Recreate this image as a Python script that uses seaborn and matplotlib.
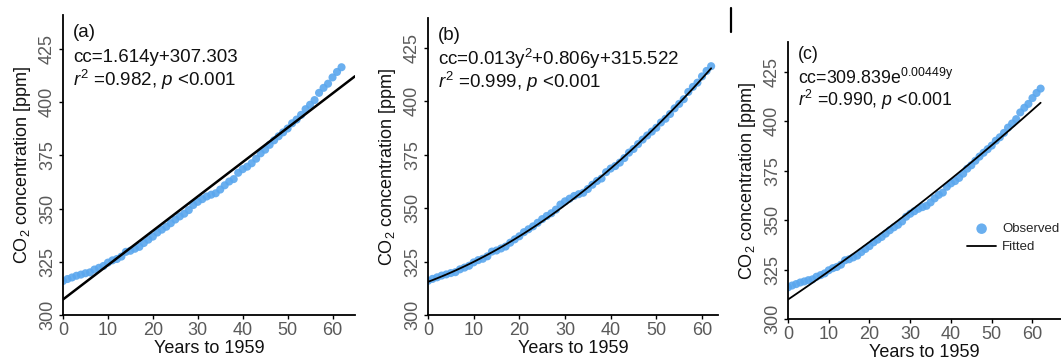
import numpy as np
import pandas as pd
import seaborn as sns
import matplotlib.pyplot as plt

# annual mean CO2 (ppm), years since 1959
years = list(range(0, 63))
co2 = [315.98, 316.91, 317.64, 318.45, 318.99, 319.62, 320.04, 321.37, 322.18, 323.05,
       324.62, 325.68, 326.32, 327.46, 329.68, 330.19, 331.13, 332.03, 333.84, 335.41,
       336.84, 338.76, 340.12, 341.48, 343.15, 344.87, 346.35, 347.61, 349.31, 351.69,
       353.20, 354.45, 355.70, 356.54, 357.21, 358.96, 360.97, 362.74, 363.88, 366.84,
       368.54, 369.71, 371.32, 373.45, 375.98, 377.70, 379.98, 382.09, 384.02, 385.83,
       387.64, 390.10, 391.85, 394.06, 396.74, 398.81, 401.01, 404.41, 406.76, 408.72,
       411.66, 414.24, 416.45]

# fit coefficients as printed on the panels
lin_coef = [1.614, 307.303]
quad_coef = [0.013, 0.806, 315.522]
exp_coef = [309.839, 0.00449]

panel_tags = ["(a)", "(b)", "(c)"]
eq_labels = ["cc=1.614y+307.303",
             "cc=0.013y$^2$+0.806y+315.522",
             r"cc=309.839e$^{\mathrm{0.00449y}}$"]
stat_labels = ["$r^2$ =0.982, $p$ <0.001",
               "$r^2$ =0.999, $p$ <0.001",
               "$r^2$ =0.990, $p$ <0.001"]

sns.set_style("white")
plt.rcParams['font.family'] = ['Liberation Sans', 'DejaVu Sans']
plt.rcParams['mathtext.fontset'] = 'custom'
plt.rcParams['mathtext.rm'] = 'Liberation Sans'
plt.rcParams['mathtext.it'] = 'Liberation Sans:italic'

df = pd.DataFrame({"year": years, "co2": co2})
yr = np.array(years, dtype=float)
yr_a = np.linspace(0, 65, 2)
fits = [
    pd.DataFrame({"year": yr_a, "co2": np.polyval(lin_coef, yr_a)}),
    pd.DataFrame({"year": yr, "co2": np.polyval(quad_coef, yr)}),
    pd.DataFrame({"year": yr, "co2": exp_coef[0] * np.exp(exp_coef[1] * yr)}),
]

W, H = 1061, 364
fig = plt.figure(figsize=(W / 100, H / 100), dpi=100)

# (left, bottom, right, top) in pixels
boxes = [(63, 315, 355, 15), (428, 315, 718, 18), (788, 319, 1061, 42)]
xlims = [65, 63.5, 67]
ylims = [441, 439, 440]
fsz = [13.5, 13.5, 12.8]
text_y = [(0.927, 0.843, 0.763), (0.927, 0.843, 0.763), (0.939, 0.848, 0.769)]
lws = [1.8, 1.3, 1.3]
pt_col = "#5AA7EE"

fig.add_artist(plt.Line2D([731 / W, 731 / W], [1 - 8 / H, 1 - 32 / H],
                          color="black", lw=1.6))

for i, (l, b, r, t) in enumerate(boxes):
    ax = fig.add_axes([l / W, 1 - b / H, (r - l) / W, (b - t) / H])
    sns.scatterplot(data=df, x="year", y="co2", ax=ax, color=pt_col, s=34,
                    edgecolor="none", alpha=0.9, label="Observed", zorder=2)
    sns.lineplot(data=fits[i], x="year", y="co2", ax=ax, color="black",
                 lw=lws[i], label="Fitted", zorder=3)
    ax.set_xlim(0, xlims[i])
    ax.set_ylim(300, ylims[i])
    ax.set_xticks([0, 10, 20, 30, 40, 50, 60])
    ax.set_yticks([300, 325, 350, 375, 400, 425])
    sns.despine(ax=ax)
    for s in ["left", "bottom"]:
        ax.spines[s].set_color("black")
        ax.spines[s].set_linewidth(1.3)
    ax.tick_params(axis="both", which="both", length=3, width=1, color="black",
                   labelsize=13, labelcolor="#5a5a5a", pad=2, direction="out",
                   left=True, bottom=True)
    for lab in ax.get_yticklabels():
        lab.set_rotation(90)
        lab.set_va("center")
    ax.set_xlabel("Years to 1959", fontsize=13, labelpad=1, color="#111111")
    ax.set_ylabel("CO$_2$ concentration [ppm]", fontsize=13, labelpad=4,
                  color="#111111")
    ty = text_y[i]
    ax.text(0.035, ty[0], panel_tags[i], transform=ax.transAxes, fontsize=fsz[i],
            va="baseline", color="#111111")
    ax.text(0.035, ty[1], eq_labels[i], transform=ax.transAxes, fontsize=fsz[i],
            va="baseline", color="#111111")
    ax.text(0.035, ty[2], stat_labels[i], transform=ax.transAxes, fontsize=fsz[i],
            va="baseline", color="#111111")
    if i == 2:
        ax.legend(loc="center left", bbox_to_anchor=(0.656, 0.292), frameon=False,
                  fontsize=9.5, handlelength=2.2, handletextpad=0.45,
                  labelspacing=0.45, markerscale=1.3, borderpad=0,
                  borderaxespad=0)
    else:
        ax.get_legend().remove()

fig.savefig("out.png", dpi=100)
